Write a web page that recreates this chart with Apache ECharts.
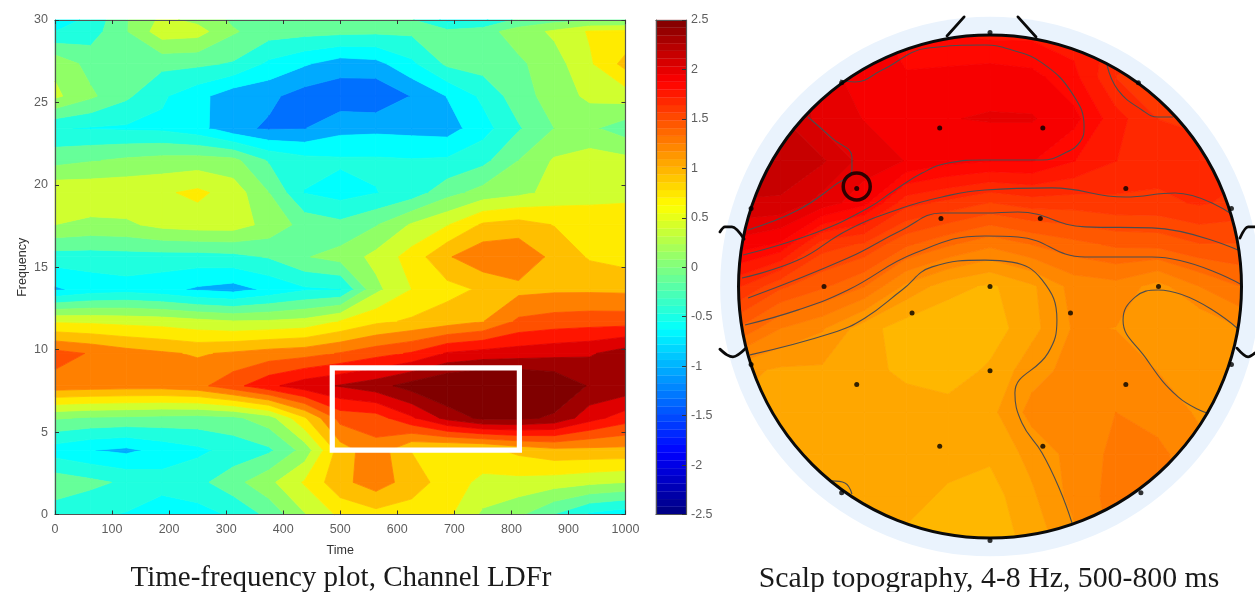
<!DOCTYPE html>
<html><head><meta charset="utf-8">
<style>html,body{margin:0;padding:0;background:#fff}#c{width:1255px;height:592px}</style>
<script src="https://cdn.jsdelivr.net/npm/echarts@6/dist/echarts.min.js"></script>
</head><body><div id="c"></div>
<script>
// ---------- Time-frequency data ----------
const TIME = [0,62.5,125,187.5,250,312.5,375,437.5,500,562.5,625,687.5,750,812.5,875,937.5,1000];
const FREQ = [0,1.95,3.9,5.86,7.81,9.77,11.72,13.67,15.63,17.58,19.53,21.48,23.44,25.39,27.34,29.3,30];
const POWER = [
[-.41,-.5,-.56,-.72,-.65,-.5,-.2,.25,.6,.72,.68,.6,.22,.05,-.28,-.6,-.72],
[-.1,-.2,-.32,-.42,-.35,-.1,.2,.57,1.0,1.22,.95,.68,.47,.45,.4,.33,.27],
[-.68,-.8,-.87,-.72,-.6,-.45,-.32,.1,.95,1.25,.8,.72,.72,.88,1.0,1.0,1.0],
[.03,-.03,-.05,-.08,-.1,-.06,.15,.78,1.45,1.5,1.85,2.25,2.5,2.5,2.38,2.0,1.75],
[1.25,1.22,1.2,1.2,1.27,1.53,1.82,2.05,2.18,2.32,2.55,2.75,2.85,2.85,2.7,2.4,2.35],
[1.45,1.33,1.2,1.12,1.05,1.12,1.2,1.25,1.37,1.52,1.65,1.92,2.0,2.03,2.08,2.13,2.3],
[.5,.48,.45,.42,.35,.28,.3,.35,.55,.75,.85,.95,1.07,1.4,1.47,1.5,1.5],
[-.85,-.7,-.65,-.72,-.85,-.92,-.75,-.58,-.55,.2,.54,.72,.85,1.0,1.03,1.03,1.02],
[-.4,-.4,-.38,-.38,-.38,-.35,-.25,-.02,.1,.35,.65,1.05,1.28,1.3,1.0,.78,.7],
[.27,.2,.22,.35,.4,.4,.18,-.1,-.2,-.02,.3,.52,.85,.92,.8,.68,.58],
[.5,.48,.48,.5,.6,.42,0,-.55,-.65,-.55,-.42,-.1,.1,.2,.35,.45,.52],
[-.1,-.02,.05,.1,.12,.08,-.3,-.45,-.5,-.5,-.52,-.5,-.35,0,.3,.4,.35],
[-.52,-.56,-.58,-.6,-.72,-1.0,-1.12,-1.09,-.9,-.88,-.9,-.93,-.65,-.3,0,.05,-.15],
[.33,.05,-.22,-.5,-.72,-.98,-1.02,-1.2,-1.25,-1.3,-1.07,-.8,-.48,-.12,.12,.33,.4],
[.2,-.1,-.15,-.2,-.22,-.3,-.6,-.78,-.95,-.9,-.6,-.22,-.15,-.05,.15,.5,.9],
[-.54,-.4,-.02,.42,.38,.03,-.15,-.18,-.2,-.22,-.22,-.2,-.1,.12,.32,.57,.6],
[-.7,-.47,-.02,.33,.2,-.05,-.2,-.2,-.2,-.2,-.25,-.62,-.6,-.2,-.1,-.05,-.05]
];
const TF_LEVELS = [-9,-1.08,-.81,-.54,-.27,0,.27,.54,.81,1.08,1.35,1.62,1.89,2.16,2.43,9];
const TF_COLORS = ['#0070FF','#00AAFF','#00FFFF','#1FFFDF','#66FF99','#90FF66','#D0FF2F','#FFEB00','#FFBF00','#FF8000','#FF5000','#FF1500','#DF0000','#9F0000','#800000'];
const ROI_TIME = [486,814];
const ROI_FREQ = [3.9,8.9];

// ---------- Topography data (head radius = 100) ----------
const TOPO_U = [-100,-83.3,-66.7,-50,-33.3,-16.7,0,16.7,33.3,50,66.7,83.3,100];
const TOPO_V = [100,83.3,66.7,50,33.3,16.7,0,-16.7,-33.3,-50,-66.7,-83.3,-100];
const TOPO = [
[2.1,2.1,2.0,1.9,1.85,1.8,1.78,1.78,1.76,1.7,1.65,1.6,1.6],
[2.1,2.1,2.0,1.9,1.88,1.9,1.92,1.9,1.82,1.64,1.6,1.6,1.6],
[2.15,2.12,2.0,1.95,1.92,1.95,1.96,1.96,1.9,1.75,1.64,1.63,1.6],
[2.2,2.15,2.12,2.0,1.95,1.9,1.88,1.88,1.8,1.72,1.68,1.66,1.66],
[2.1,2.1,2.0,1.9,1.67,1.62,1.56,1.6,1.6,1.62,1.62,1.65,1.62],
[1.92,1.86,1.6,1.55,1.42,1.34,1.27,1.33,1.38,1.42,1.43,1.48,1.48],
[1.65,1.5,1.42,1.33,1.15,1.05,1.0,1.08,1.2,1.22,1.14,1.25,1.33],
[1.4,1.25,1.18,1.05,.97,.94,.97,1.07,1.18,1.17,1.1,1.1,1.17],
[1.12,1.08,1.08,1.05,.99,.97,1.03,1.14,1.2,1.22,1.17,1.12,1.1],
[1.08,1.08,1.08,1.08,1.07,1.05,1.07,1.2,1.22,1.25,1.22,1.16,1.1],
[1.08,1.08,1.08,1.08,1.08,1.05,1.03,1.12,1.2,1.27,1.27,1.2,1.2],
[1.08,1.08,1.08,1.08,1.05,1.0,.98,1.08,1.2,1.28,1.28,1.2,1.2],
[1.08,1.08,1.08,1.05,1.0,.96,.96,1.05,1.15,1.28,1.28,1.2,1.2]
];
const ELECTRODES = [[0,101],[-59,81],[59,81],[-20,63],[21,63],[-53,39],[54,39],[-19.5,27],[20,27],[-95,31],[96,31],[-66,0],[0,0],[67,0],[-31,-10.5],[32,-10.5],[0,-33.5],[-53,-39],[54,-39],[-20,-63.5],[21,-63.5],[-95,-31],[96,-31],[-59,-82],[60,-82],[0,-101]];
const SELECTED = [[-53,39.8]];
const CONTOUR_A = [[-96.2,22.5],[-76.3,30.4],[-61.6,40.4],[-54.9,46.3],[-54.9,51.5],[-62.8,59],[-72.4,67.4]];
const CONTOUR_B = [[-98.2,12.5],[-69.6,21.3],[-48.5,31.2],[-37.8,38.4],[-27,45.1],[-16.7,49.1],[-2,50.3],[20.7,50.3],[29.8,53.1],[35.8,57.5],[37.4,63.4],[32.6,76.9],[20.7,88.9],[8.7,94],[-2,96],[-24.7,94.8],[-42.9,86.1],[-53.7,81.3],[-59.6,82.1]];
const CONTOUR_C1 = [[-98.6,3.4],[-76.3,10.5],[-56.5,22.5],[-35,31.2],[-19.1,35.6],[-2,38.4],[24.7,39.2],[53.7,35.6],[73.6,37.2],[95.4,29.2]];
const CONTOUR_C2 = [[46.5,88.1],[50.9,78.1],[60.4,70.2],[66.8,67.4],[72.8,67.4]];
const CONTOUR_D = [[-96.2,-4.6],[-56.5,11.3],[-35,22.5],[-19.1,29.2],[-2,29.2],[11.1,29.6],[37.8,23.7],[64.4,23.3],[98.6,14.5]];
const CONTOUR_E = [[-97.4,-15.3],[-76.3,-9.3],[-56.5,-1.4],[-29.8,13.3],[-2,20.1],[11.1,19.7],[37.8,11.7],[64.4,11.7],[100.2,.6]];
const CONTOUR_F = [[-95.4,-27.2],[-62.8,-18.5],[-49.7,-12.5],[-35,-1.4],[-23,7.8],[-2,10.5],[8.7,9.7],[20.7,2.6],[26.6,-13.3],[23.1,-26.4],[9.9,-42.3],[12.7,-54.3],[20.7,-66.2],[27.8,-80.9],[32.6,-94]];
const CONTOUR_G = [[98.2,-16.5],[66.8,-1.4],[57.7,-4.2],[52.9,-13.3],[61.6,-28],[74.8,-43.9],[86.3,-50.3]];
const CONTOUR_H = [[-62.8,-77.3],[-57.7,-78.1],[-54.9,-82.5]];
const NOSE_L = [[-17.1,99.6],[-10.3,107.2]];
const NOSE_R = [[18.3,99.2],[11.1,107.2]];
const EAR_LT = [[-97.8,18.9],[-102.6,23.7],[-105.4,23.7],[-107.4,21.7]];
const EAR_LB = [[-97,-24.5],[-102.2,-28],[-104.6,-27.2],[-107.4,-24.9]];
const EAR_RT = [[99.4,19.3],[102.6,23.7],[105.4,23.7]];
const EAR_RB = [[98.2,-24.5],[102.6,-28],[105.4,-26.4]];

const FONT = '"Liberation Sans",Arial,sans-serif';
const TICK_COLOR = '#5e5e5e';
const PX_PER_UNIT = 2.515, CX = 990, CY = 286.5;

function jet(t){
  const c = x => Math.round(255*Math.max(0,Math.min(1,x)));
  return `rgb(${c(Math.min(4*t-1.5,-4*t+4.5))},${c(Math.min(4*t-.5,-4*t+3.5))},${c(Math.min(4*t+.5,-4*t+2.5))})`;
}
function clipSide(poly,lvl,sign){
  const out=[];
  for(let i=0;i<poly.length;i++){
    const a=poly[i],b=poly[(i+1)%poly.length];
    const ia=sign*(a[2]-lvl)>=0, ib=sign*(b[2]-lvl)>=0;
    if(ia) out.push(a);
    if(ia!==ib){const k=(lvl-a[2])/(b[2]-a[2]);out.push([a[0]+k*(b[0]-a[0]),a[1]+k*(b[1]-a[1]),lvl]);}
  }
  return out;
}
function bandChildren(quad,levels,colors,api){
  const kids=[];
  for(let b=0;b<colors.length;b++){
    let p=clipSide(quad,levels[b],1);
    if(p.length>2) p=clipSide(p,levels[b+1],-1);
    if(p.length>2){
      kids.push({type:'polygon',shape:{points:p.map(q=>api.coord([q[0],q[1]]))},
        style:{fill:colors[b],stroke:colors[b],lineWidth:.8}});
    }
  }
  return kids;
}
const tfCells=[];for(let j=0;j<FREQ.length-1;j++)for(let i=0;i<TIME.length-1;i++)tfCells.push([i,j]);
const topoCells=[];for(let j=0;j<TOPO_V.length-1;j++)for(let i=0;i<TOPO_U.length-1;i++)topoCells.push([i,j]);
const TOPO_LEVELS=[],TOPO_COLORS=[];
for(let k=0;k<64;k++){TOPO_LEVELS.push(k===0?-9:-2.5+k*5/64);TOPO_COLORS.push(jet((k+.5)/64));}
TOPO_LEVELS.push(9);
const CBAR=[];for(let k=0;k<64;k++)CBAR.push([-2.5+k*5/64,-2.5+(k+1)*5/64,k]);

function axisBase(extra){
  return Object.assign({type:'value',z:10,splitLine:{show:false},
    axisLine:{show:true,onZero:false,lineStyle:{color:'#555',width:1.2}},
    axisTick:{show:true,inside:true,length:4,lineStyle:{color:'#333',width:1}},
    axisLabel:{show:false}},extra);
}
const labelX={show:true,fontFamily:FONT,fontSize:12.5,color:TICK_COLOR,margin:9,hideOverlap:false,
  alignMinLabel:'center',alignMaxLabel:'center',formatter:v=>String(v)};
const labelY={show:true,fontFamily:FONT,fontSize:12.5,color:TICK_COLOR,margin:7,hideOverlap:false,
  verticalAlignMinLabel:'middle',verticalAlignMaxLabel:'middle',formatter:v=>String(v)};

const contourSeries=[CONTOUR_A,CONTOUR_B,CONTOUR_C1,CONTOUR_C2,CONTOUR_D,CONTOUR_E,CONTOUR_F,CONTOUR_G,CONTOUR_H].map(d=>({
  type:'line',xAxisIndex:4,yAxisIndex:4,data:d,smooth:.45,symbol:'none',silent:true,clip:false,z:6,
  lineStyle:{color:'#4c4c4e',width:1.1}}));
const headSeries=[NOSE_L,NOSE_R,EAR_LT,EAR_LB,EAR_RT,EAR_RB].map(d=>({
  type:'line',xAxisIndex:4,yAxisIndex:4,data:d,smooth:.3,symbol:'none',silent:true,clip:false,z:7,
  lineStyle:{color:'#0a0a0a',width:2.8,cap:'round'}}));

const option={
  animation:false,backgroundColor:'#fff',
  grid:[
    {left:55,top:20,width:570.5,height:494.5},
    {left:656,top:20,width:30,height:494.5},
    {left:700.8,top:0,width:554.2,height:592}
  ],
  xAxis:[
    axisBase({gridIndex:0,min:0,max:1000,interval:100,position:'bottom',axisLabel:labelX,
      name:'Time',nameLocation:'middle',nameGap:30,nameTextStyle:{fontFamily:FONT,fontSize:12.5,color:'#333'}}),
    axisBase({gridIndex:0,min:0,max:1000,interval:100,position:'top'}),
    axisBase({gridIndex:1,min:0,max:1,position:'bottom',axisTick:{show:false}}),
    axisBase({gridIndex:1,min:0,max:1,position:'top',axisTick:{show:false}}),
    {type:'value',gridIndex:2,min:-115,max:(1255-CX)/PX_PER_UNIT,show:false}
  ],
  yAxis:[
    axisBase({gridIndex:0,min:0,max:30,interval:5,position:'left',axisLabel:labelY,
      name:'Frequency',nameLocation:'middle',nameGap:26,nameRotate:90,nameTextStyle:{fontFamily:FONT,fontSize:12.5,color:'#333'}}),
    axisBase({gridIndex:0,min:0,max:30,interval:5,position:'right'}),
    axisBase({gridIndex:1,min:-2.5,max:2.5,interval:.5,position:'right',axisLabel:Object.assign({},labelY,{margin:5})}),
    axisBase({gridIndex:1,min:-2.5,max:2.5,interval:.5,position:'left',axisTick:{show:false}}),
    {type:'value',gridIndex:2,min:(CY-592)/PX_PER_UNIT,max:CY/PX_PER_UNIT,show:false}
  ],
  series:[
    {type:'custom',xAxisIndex:0,yAxisIndex:0,data:tfCells,clip:false,silent:true,z:2,
     renderItem(params,api){
       const i=api.value(0),j=api.value(1);
       const q=[[TIME[i],FREQ[j],POWER[j][i]],[TIME[i+1],FREQ[j],POWER[j][i+1]],
                [TIME[i+1],FREQ[j+1],POWER[j+1][i+1]],[TIME[i],FREQ[j+1],POWER[j+1][i]]];
       return {type:'group',children:bandChildren(q,TF_LEVELS,TF_COLORS,api)};
     }},
    {type:'custom',xAxisIndex:0,yAxisIndex:0,data:[[ROI_TIME[0],ROI_FREQ[0],ROI_TIME[1],ROI_FREQ[1]]],clip:false,silent:true,z:4,
     renderItem(params,api){
       const a=api.coord([api.value(0),api.value(1)]),b=api.coord([api.value(2),api.value(3)]);
       return {type:'rect',shape:{x:a[0],y:b[1],width:b[0]-a[0],height:a[1]-b[1]},
         style:{fill:'none',stroke:'#fff',lineWidth:5.2}};
     }},
    {type:'custom',xAxisIndex:2,yAxisIndex:2,data:CBAR,encode:{y:[0,1]},clip:false,silent:true,z:2,
     renderItem(params,api){
       const a=api.coord([0,api.value(0)]),b=api.coord([1,api.value(1)]);
       const col=jet((api.value(2)+.5)/64);
       return {type:'rect',shape:{x:a[0],y:b[1],width:b[0]-a[0],height:a[1]-b[1]},style:{fill:col,stroke:col,lineWidth:.3}};
     }},
    {type:'custom',xAxisIndex:4,yAxisIndex:4,data:[[0,0,107.3]],clip:false,silent:true,z:1,
     renderItem(params,api){
       const c=api.coord([0,0]),r=api.size([api.value(2),0])[0];
       return {type:'circle',shape:{cx:c[0],cy:c[1],r},style:{fill:'#eaf3fd'}};
     }},
    {type:'custom',xAxisIndex:4,yAxisIndex:4,data:topoCells,clip:false,silent:true,z:3,
     renderItem(params,api){
       const i=api.value(0),j=api.value(1);
       const q=[[TOPO_U[i],TOPO_V[j],TOPO[j][i]],[TOPO_U[i+1],TOPO_V[j],TOPO[j][i+1]],
                [TOPO_U[i+1],TOPO_V[j+1],TOPO[j+1][i+1]],[TOPO_U[i],TOPO_V[j+1],TOPO[j+1][i]]];
       const c=api.coord([0,0]),r=api.size([100,0])[0];
       return {type:'group',clipPath:{type:'circle',shape:{cx:c[0],cy:c[1],r}},children:bandChildren(q,TOPO_LEVELS,TOPO_COLORS,api)};
     }},
    ...contourSeries,
    ...headSeries,
    {type:'custom',xAxisIndex:4,yAxisIndex:4,data:[[0,0,100]],clip:false,silent:true,z:8,
     renderItem(params,api){
       const c=api.coord([0,0]),r=api.size([api.value(2),0])[0];
       return {type:'circle',shape:{cx:c[0],cy:c[1],r},style:{fill:'none',stroke:'#0a0a0a',lineWidth:3}};
     }},
    {type:'scatter',xAxisIndex:4,yAxisIndex:4,data:ELECTRODES,symbolSize:5,silent:true,clip:false,z:9,itemStyle:{color:'#000'}},
    {type:'scatter',xAxisIndex:4,yAxisIndex:4,data:SELECTED,symbolSize:27,silent:true,clip:false,z:9,
     itemStyle:{color:'rgba(0,0,0,0)',borderColor:'#000',borderWidth:3.5}}
  ],
  graphic:[
    {type:'text',x:341,y:564,style:{text:'Time-frequency plot, Channel LDFr',fill:'#1a1a1a',font:'29px "Liberation Serif",serif',textAlign:'center'}},
    {type:'text',x:989,y:564,style:{text:'Scalp topography, 4-8 Hz, 500-800 ms',fill:'#1a1a1a',font:'29.8px "Liberation Serif",serif',textAlign:'center'}}
  ]
};
const chart=echarts.init(document.getElementById('c'),null,{renderer:'canvas'});
chart.setOption(option);
</script></body></html>
